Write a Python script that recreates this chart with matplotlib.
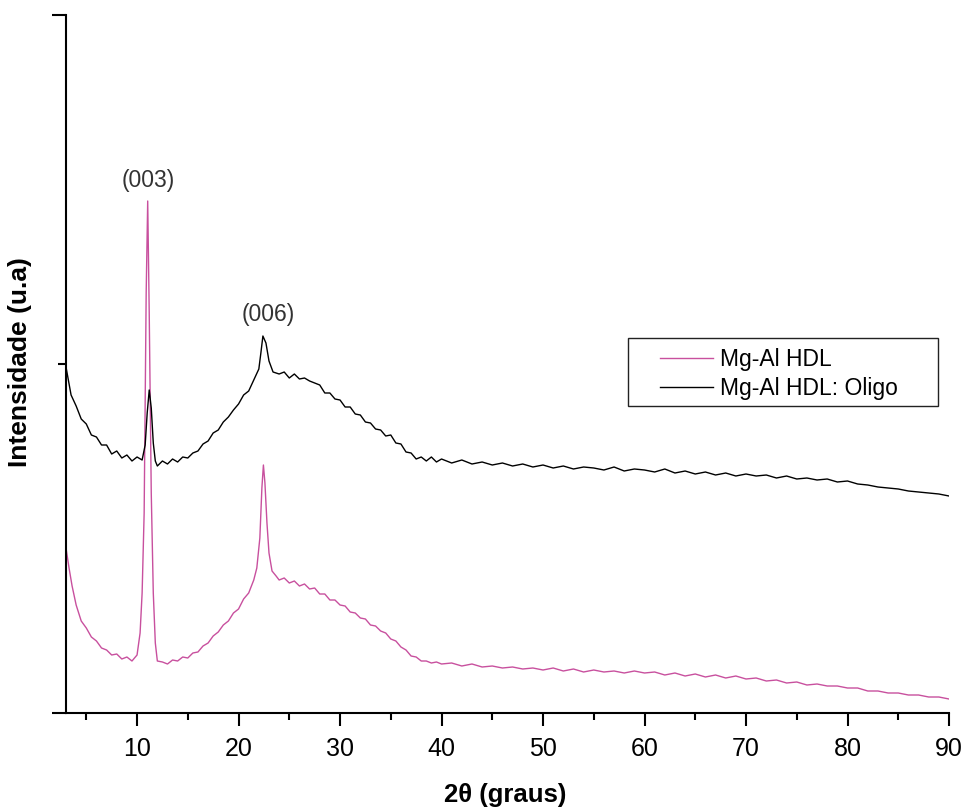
import matplotlib
matplotlib.use("Agg")
import matplotlib.pyplot as plt
from matplotlib.patches import Rectangle
from matplotlib.ticker import FixedLocator, NullFormatter

plt.rcParams['font.family'] = ['Liberation Sans', 'DejaVu Sans']

# ---- data (intensity in arbitrary units) ----
theta_oligo = [3.0, 3.5, 4.0, 4.5, 5.0, 5.5, 6.0, 6.5, 7.0, 7.5, 8.0, 8.5, 9.0, 9.5, 10.0, 10.5,
               10.8, 11.0, 11.2, 11.4, 11.6, 11.8, 12.0, 12.5, 13.0, 13.5, 14.0, 14.5, 15.0, 15.5,
               16.0, 16.5, 17.0, 17.5, 18.0, 18.5, 19.0, 19.5, 20.0, 20.5, 21.0, 21.5, 22.0, 22.2,
               22.4, 22.7, 23.0, 23.4, 24.0, 24.5, 25.0, 25.5, 26.0, 26.5, 27.0, 27.5, 28.0, 28.5,
               29.0, 29.5, 30.0, 30.5, 31.0, 31.5, 32.0, 32.5, 33.0, 33.5, 34.0, 34.5, 35.0, 35.5,
               36.0, 36.5, 37.0, 37.5, 38.0, 38.5, 39.0, 39.5, 40.0, 41, 42, 43, 44, 45, 46, 47, 48,
               49, 50, 51, 52, 53, 54, 55, 56, 57, 58, 59, 60, 61, 62, 63, 64, 65, 66, 67, 68, 69,
               70, 71, 72, 73, 74, 75, 76, 77, 78, 79, 80, 81, 82, 83, 84, 85, 86, 87, 88, 89, 90]
int_oligo = [346, 318, 307, 294, 289, 278, 276, 268, 268, 259, 262, 255, 258, 252, 256, 253,
             268, 300, 323, 305, 270, 252, 247, 252, 249, 254, 251, 256, 255, 260,
             262, 269, 272, 280, 283, 291, 296, 303, 309, 318, 322, 333, 344, 360,
             377, 370, 352, 341, 339, 341, 335, 339, 334, 335, 332, 330, 328, 320,
             320, 314, 313, 306, 306, 299, 298, 291, 290, 284, 283, 277, 278, 270,
             269, 261, 260, 254, 256, 252, 256, 251, 254, 250, 253, 249, 251, 248, 250, 247, 249,
             246, 248, 245, 247, 244, 246, 245, 243, 246, 242, 244, 243, 241, 244, 240, 242, 239,
             241, 238, 240, 237, 239, 237, 238, 235, 237, 234, 235, 233, 234, 231, 232, 229, 228,
             226, 225, 224, 222, 221, 220, 219, 217]

theta_hdl = [3.0, 3.3, 3.6, 4.0, 4.5, 5.0, 5.5, 6.0, 6.5, 7.0, 7.5, 8.0, 8.5, 9.0, 9.5, 10.0,
             10.3, 10.5, 10.7, 10.9, 11.05, 11.2, 11.4, 11.6, 11.8, 12.0, 12.5, 13.0, 13.5, 14.0,
             14.5, 15.0, 15.5, 16.0, 16.5, 17.0, 17.5, 18.0, 18.5, 19.0, 19.5, 20.0, 20.5, 21.0,
             21.5, 21.8, 22.1, 22.3, 22.45, 22.6, 22.8, 23.0, 23.3, 23.7, 24.0, 24.5, 25.0, 25.5,
             26.0, 26.5, 27.0, 27.5, 28.0, 28.5, 29.0, 29.5, 30.0, 30.5, 31.0, 31.5, 32.0, 32.5,
             33.0, 33.5, 34.0, 34.5, 35.0, 35.5, 36.0, 36.5, 37.0, 37.5, 38.0, 38.5, 39.0, 39.5,
             40.0, 41, 42, 43, 44, 45, 46, 47, 48, 49, 50, 51, 52, 53, 54, 55, 56, 57, 58, 59, 60,
             61, 62, 63, 64, 65, 66, 67, 68, 69, 70, 71, 72, 73, 74, 75, 76, 77, 78, 79, 80, 81,
             82, 83, 84, 85, 86, 87, 88, 89, 90]
int_hdl = [165, 145, 127, 108, 92, 85, 76, 72, 65, 63, 58, 59, 54, 56, 52, 58,
           80, 120, 200, 420, 512, 400, 220, 120, 70, 52, 51, 49, 53, 52,
           56, 55, 60, 61, 67, 70, 77, 81, 88, 92, 100, 104, 114, 120,
           133, 145, 175, 225, 248, 230, 190, 160, 142, 137, 133, 135, 130, 132,
           127, 129, 124, 125, 119, 119, 113, 113, 108, 107, 101, 100, 95, 94,
           88, 87, 82, 80, 74, 72, 66, 63, 57, 56, 52, 52, 50, 51,
           49, 50, 47, 49, 46, 47, 45, 46, 44, 45, 43, 45, 42, 44, 41, 43, 41, 42, 40, 42, 40,
           41, 38, 40, 37, 39, 36, 38, 35, 37, 34, 35, 32, 33, 30, 31, 28, 29, 27, 27, 25, 25,
           22, 22, 20, 20, 18, 18, 16, 16, 14]

label_hdl = 'Mg-Al HDL'
label_oligo = 'Mg-Al HDL: Oligo'
xticks_major = [10, 20, 30, 40, 50, 60, 70, 80, 90]
xticks_minor = [5, 15, 25, 35, 45, 55, 65, 75, 85]
peak_labels = ['(003)', '(006)']
peak_pos = [(11.1, 532), (22.9, 399)]

# ---- figure ----
fig = plt.figure(figsize=(9.63, 8.09), dpi=100)
ax = fig.add_axes([66 / 963, 96 / 809, 883 / 963, 698 / 809])

ax.plot(theta_hdl, int_hdl, color='#c8509e', lw=1.0, label=label_hdl)
ax.plot(theta_oligo, int_oligo, color='black', lw=1.0, label=label_oligo)

ax.set_xlim(3, 90)
ax.set_ylim(0, 698)

for s in ['top', 'right']:
    ax.spines[s].set_visible(False)
for s in ['left', 'bottom']:
    ax.spines[s].set_linewidth(1.5)

ax.xaxis.set_major_locator(FixedLocator(xticks_major))
ax.xaxis.set_minor_locator(FixedLocator(xticks_minor))
ax.yaxis.set_major_locator(FixedLocator([0, 698]))
ax.yaxis.set_minor_locator(FixedLocator([349]))
ax.yaxis.set_major_formatter(NullFormatter())
ax.tick_params(axis='x', which='major', direction='out', length=9.5, width=1.5,
               labelsize=18, pad=7.5)
ax.tick_params(axis='x', which='minor', direction='out', length=5, width=1.5)
ax.tick_params(axis='y', which='major', direction='out', length=10, width=1.5)
ax.tick_params(axis='y', which='minor', direction='out', length=6, width=1.5)

for txt, (px, py) in zip(peak_labels, peak_pos):
    ax.text(px, py, txt, ha='center', va='center', fontsize=16.5, color='#333333')

# legend: entries without frame, plus a box like the reference's
leg = ax.legend(loc='upper left', bbox_to_anchor=((660 - 66) / 883, (713 - 348) / 698),
                fontsize=16.5, frameon=False, handlelength=2.3, handletextpad=0.3,
                borderpad=0, labelspacing=0.28, borderaxespad=0)
ax.add_patch(Rectangle(((628 - 66) / 883, (713 - 406) / 698), 310 / 883, 68 / 698,
                       transform=ax.transAxes, fill=False, edgecolor='#222222',
                       linewidth=1.0, zorder=5))

fig.text(505 / 963, 14 / 809, '2θ (graus)', ha='center', va='center',
         fontsize=18.5, fontweight='bold')
fig.text(20 / 963, (809 - 362) / 809, 'Intensidade (u.a)', ha='center', va='center',
         rotation=90, fontsize=19, fontweight='bold')

fig.savefig('out.png', dpi=100)
